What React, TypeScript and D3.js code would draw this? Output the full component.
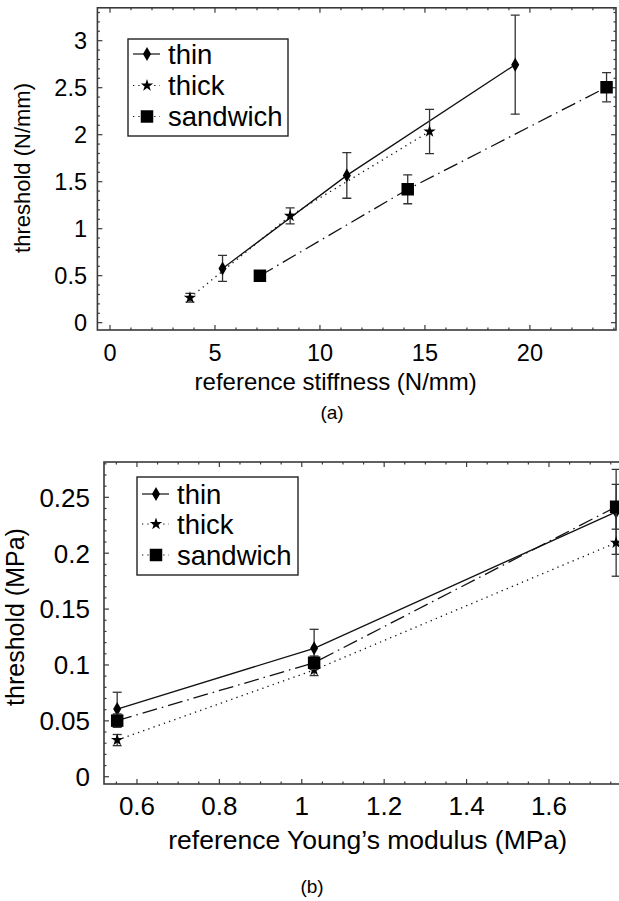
import React, { useEffect, useRef } from 'react';
import * as d3 from 'd3';

// panel (a): threshold (N/mm) vs reference stiffness (N/mm)
const thinA = [
  { x: 5.36, y: 0.577, e: 0.138 },
  { x: 11.28, y: 1.567, e: 0.243 },
  { x: 19.3, y: 2.745, e: 0.527 },
];
const thickA = [
  { x: 3.81, y: 0.265, e: 0.046 },
  { x: 8.58, y: 1.136, e: 0.085 },
  { x: 15.22, y: 2.034, e: 0.235 },
];
const sandwichA = [
  { x: 7.14, y: 0.499, e: 0.04 },
  { x: 14.18, y: 1.419, e: 0.154 },
  { x: 23.65, y: 2.505, e: 0.155 },
];

// panel (b): threshold (MPa) vs reference Young's modulus (MPa)
const thinB = [
  { x: 0.552, y: 0.0606, e: 0.015 },
  { x: 1.03, y: 0.1149, e: 0.017 },
  { x: 1.763, y: 0.237, e: 0.038 },
];
const thickB = [
  { x: 0.552, y: 0.0328, e: 0.005 },
  { x: 1.03, y: 0.0955, e: 0.005 },
  { x: 1.763, y: 0.2094, e: 0.03 },
];
const sandwichB = [
  { x: 0.552, y: 0.0502, e: 0.006 },
  { x: 1.03, y: 0.102, e: 0.006 },
  { x: 1.763, y: 0.2415, e: 0.02 },
];

const seriesNames = ['thin', 'thick', 'sandwich'];

const ticksAX = [0, 5, 10, 15, 20];
const ticksAY = [0, 0.5, 1, 1.5, 2, 2.5, 3];
const ticksBX = [0.6, 0.8, 1, 1.2, 1.4, 1.6];
const ticksBY = [0, 0.05, 0.1, 0.15, 0.2, 0.25];

const FONT = "'Liberation Sans', Arial, Helvetica, sans-serif";

type Pt = { x: number; y: number; e: number };

const styles = [
  { dash: null as string | null, symbol: d3.symbolDiamond, size: 56 },
  { dash: '1.3,4.2', symbol: d3.symbolStar, size: 48 },
  { dash: '15,5,1.5,5', symbol: d3.symbolSquare, size: 156 },
];

function drawPanel(svg: any, opt: any) {
  const { xDomain, xRange, yDomain, yRange, xTicks, yTicks, xMinor, yMinor, yFmt,
    series, legend, tickFont, xLabelY, xTitle, xTitleY, yTitle, yTitleX, yTitleY,
    yLabelX, tag, tagY, titleFont } = opt;
  const x = d3.scaleLinear().domain(xDomain).range(xRange);
  const y = d3.scaleLinear().domain(yDomain).range(yRange);
  const g = svg.append('g');
  const frame = '#3a3a3a';

  const clipId = 'clip' + tag.replace(/\W/g, '');
  g.append('clipPath').attr('id', clipId)
    .append('rect')
    .attr('x', xRange[0]).attr('y', yRange[1])
    .attr('width', xRange[1] - xRange[0]).attr('height', yRange[0] - yRange[1]);

  // minor + major ticks on all four sides, pointing inward
  const xMin = d3.range(Math.ceil(xDomain[0] / xMinor) * xMinor, xDomain[1], xMinor);
  const yMin = d3.range(Math.ceil(yDomain[0] / yMinor - 1e-9) * yMinor, yDomain[1], yMinor);
  const isMajor = (v: number, arr: number[]) => arr.some(t => Math.abs(t - v) < 1e-6);
  xMin.forEach((v: number) => {
    const len = isMajor(v, xTicks) ? 5 : 2.5;
    g.append('line').attr('x1', x(v)).attr('x2', x(v)).attr('y1', yRange[0]).attr('y2', yRange[0] - len)
      .attr('stroke', frame).attr('stroke-width', 1.2);
    g.append('line').attr('x1', x(v)).attr('x2', x(v)).attr('y1', yRange[1]).attr('y2', yRange[1] + len)
      .attr('stroke', frame).attr('stroke-width', 1.2);
  });
  yMin.forEach((v: number) => {
    const len = isMajor(v, yTicks) ? 5 : 2.5;
    g.append('line').attr('y1', y(v)).attr('y2', y(v)).attr('x1', xRange[0]).attr('x2', xRange[0] + len)
      .attr('stroke', frame).attr('stroke-width', 1.2);
    g.append('line').attr('y1', y(v)).attr('y2', y(v)).attr('x1', xRange[1]).attr('x2', xRange[1] - len)
      .attr('stroke', frame).attr('stroke-width', 1.2);
  });

  g.append('rect')
    .attr('x', xRange[0]).attr('y', yRange[1])
    .attr('width', xRange[1] - xRange[0]).attr('height', yRange[0] - yRange[1])
    .attr('fill', 'none').attr('stroke', frame).attr('stroke-width', 1.6);

  g.selectAll('.xl').data(xTicks).enter().append('text')
    .attr('x', (d: number) => x(d)).attr('y', xLabelY)
    .attr('text-anchor', 'middle').attr('font-family', FONT).attr('font-size', tickFont)
    .text((d: number) => d3.format('~g')(d));
  g.selectAll('.yl').data(yTicks).enter().append('text')
    .attr('x', yLabelX).attr('y', (d: number) => y(d)).attr('dy', '0.36em')
    .attr('text-anchor', 'end').attr('font-family', FONT).attr('font-size', tickFont)
    .text((d: number) => yFmt(d));

  g.append('text').attr('x', (xRange[0] + xRange[1]) / 2 + opt.xTitleShift).attr('y', xTitleY)
    .attr('text-anchor', 'middle').attr('font-family', FONT).attr('font-size', titleFont)
    .text(xTitle);
  g.append('text')
    .attr('transform', `translate(${yTitleX},${yTitleY}) rotate(-90)`)
    .attr('text-anchor', 'middle').attr('font-family', FONT).attr('font-size', opt.yTitleFont)
    .text(yTitle);
  g.append('text').attr('x', opt.tagX).attr('y', tagY)
    .attr('text-anchor', 'middle').attr('font-family', FONT).attr('font-size', 19)
    .text(tag);

  const plot = g.append('g').attr('clip-path', `url(#${clipId})`);
  const line = d3.line<Pt>().x(d => x(d.x)).y(d => y(d.y));

  series.forEach((data: Pt[], i: number) => {
    const st = styles[i];
    plot.append('path').attr('d', line(data)).attr('fill', 'none')
      .attr('stroke', '#111').attr('stroke-width', 1.3)
      .attr('stroke-dasharray', st.dash);
    data.forEach(d => {
      const cx = x(d.x);
      const top = y(d.y + d.e), bot = y(d.y - d.e);
      plot.append('line').attr('x1', cx).attr('x2', cx).attr('y1', top).attr('y2', bot)
        .attr('stroke', '#333').attr('stroke-width', 1.3);
      [top, bot].forEach(yy => {
        plot.append('line').attr('x1', cx - 4.5).attr('x2', cx + 4.5).attr('y1', yy).attr('y2', yy)
          .attr('stroke', '#333').attr('stroke-width', 1.3);
      });
    });
    plot.selectAll('.m' + i).data(data).enter().append('path')
      .attr('transform', (d: Pt) => `translate(${x(d.x)},${y(d.y)})`)
      .attr('d', d3.symbol().type(st.symbol).size(st.size)())
      .attr('fill', '#000');
  });

  // legend
  const lg = g.append('g');
  lg.append('rect').attr('x', legend.x).attr('y', legend.y)
    .attr('width', legend.w).attr('height', legend.h)
    .attr('fill', '#fff').attr('stroke', '#222').attr('stroke-width', 1.4);
  seriesNames.forEach((name, i) => {
    const st = styles[i];
    const yy = legend.y + legend.rows[i];
    lg.append('line').attr('x1', legend.x + 5).attr('x2', legend.x + 32).attr('y1', yy).attr('y2', yy)
      .attr('stroke', '#111').attr('stroke-width', 1.2).attr('stroke-dasharray', i === 0 ? null : '1.3,4');
    lg.append('path').attr('transform', `translate(${legend.x + 19},${yy})`)
      .attr('d', d3.symbol().type(st.symbol).size(st.size)()).attr('fill', '#000');
    lg.append('text').attr('x', legend.x + 40).attr('y', yy).attr('dy', '0.36em')
      .attr('font-family', FONT).attr('font-size', legend.font).text(name);
  });
}

export default function App() {
  const ref = useRef<SVGSVGElement | null>(null);

  useEffect(() => {
    const svg = d3.select(ref.current);
    svg.selectAll('*').remove();

    drawPanel(svg, {
      xDomain: [-0.6, 24.1], xRange: [97.4, 616],
      yDomain: [-0.078, 3.35], yRange: [330, 7.8],
      xTicks: ticksAX, yTicks: ticksAY, xMinor: 1, yMinor: 0.1,
      yFmt: d3.format('~g'),
      series: [thinA, thickA, sandwichA],
      legend: { x: 128, y: 39, w: 160, h: 97, rows: [15, 46.5, 77.5], font: 27.5 },
      tickFont: 23.5, xLabelY: 361, yLabelX: 87,
      xTitle: 'reference stiffness (N/mm)', xTitleY: 390, xTitleShift: -21,
      yTitle: 'threshold (N/mm)', yTitleX: 30, yTitleY: 168, yTitleFont: 22,
      tag: '(a)', tagX: 332, tagY: 419, titleFont: 24,
    });

    drawPanel(svg, {
      xDomain: [0.52, 1.785], xRange: [104, 625.2],
      yDomain: [-0.0065, 0.2816], yRange: [784, 462],
      xTicks: ticksBX, yTicks: ticksBY, xMinor: 0.05, yMinor: 0.01,
      yFmt: d3.format('~g'),
      series: [thinB, thickB, sandwichB],
      legend: { x: 137, y: 477, w: 161, h: 98, rows: [17, 47, 78], font: 27.5 },
      tickFont: 26, xLabelY: 815, yLabelX: 90,
      xTitle: 'reference Young\u2019s modulus (MPa)', xTitleY: 849, xTitleShift: 3,
      yTitle: 'threshold (MPa)', yTitleX: 24, yTitleY: 617, yTitleFont: 25,
      tag: '(b)', tagX: 312, tagY: 893, titleFont: 26.5,
    });
  }, []);

  return (
    <svg ref={ref} width={619} height={901}
      style={{ position: 'absolute', left: 0, top: 0, background: '#fff' }} />
  );
}
